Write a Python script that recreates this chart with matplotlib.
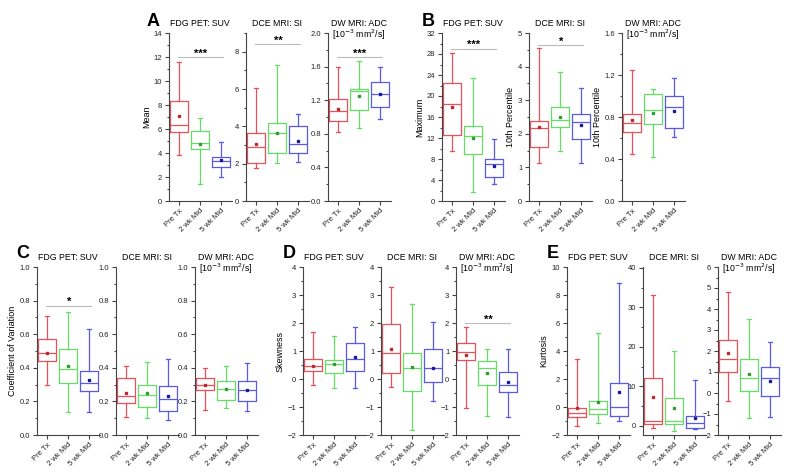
import matplotlib
matplotlib.use("Agg")
import matplotlib.pyplot as plt
from matplotlib.ticker import MultipleLocator

plt.rcParams['font.family'] = ['Liberation Sans', 'DejaVu Sans']

# -----------------------------
# DATA
# each box: (whisker low, Q1, median, Q3, whisker high, mean)
# order: Pre Tx, 2 wk Mid, 5 wk Mid
# -----------------------------
groups = ["Pre Tx", "2 wk Mid", "5 wk Mid"]

mean_suv = [(3.8, 5.75, 6.3, 8.35, 11.6, 7.1), (1.4, 4.3, 4.8, 5.85, 6.9, 4.75), (1.97, 2.83, 3.3, 3.64, 4.95, 3.4)]
mean_si = [(1.76, 2.03, 2.9, 3.64, 6.05, 3.06), (2.03, 2.56, 3.64, 4.18, 7.3, 3.62), (2.08, 2.56, 3.06, 4.03, 4.66, 3.22)]
mean_adc = [(0.82, 0.95, 1.07, 1.21, 1.6, 1.10), (0.87, 1.08, 1.31, 1.33, 1.67, 1.25), (0.98, 1.12, 1.27, 1.42, 1.6, 1.27)]

max_suv = [(9.6, 12.5, 18.4, 22.5, 28.2, 17.9), (1.8, 9.0, 12.4, 14.2, 23.5, 12.0), (3.2, 4.6, 7.1, 7.95, 11.8, 6.7)]
p10_si = [(1.12, 1.62, 2.18, 2.39, 4.54, 2.19), (1.49, 2.19, 2.41, 2.81, 3.85, 2.49), (1.12, 1.84, 2.34, 2.59, 3.35, 2.26)]
p10_adc = [(0.45, 0.66, 0.74, 0.83, 1.25, 0.77), (0.42, 0.73, 0.87, 1.02, 1.07, 0.84), (0.61, 0.70, 0.90, 1.0, 1.17, 0.86)]

cv_suv = [(0.30, 0.44, 0.49, 0.57, 0.71, 0.49), (0.135, 0.31, 0.39, 0.51, 0.735, 0.41), (0.135, 0.26, 0.31, 0.38, 0.63, 0.33)]
cv_si = [(0.105, 0.19, 0.235, 0.34, 0.41, 0.25), (0.10, 0.165, 0.24, 0.30, 0.435, 0.25), (0.09, 0.14, 0.215, 0.29, 0.45, 0.23)]
cv_adc = [(0.15, 0.27, 0.30, 0.34, 0.40, 0.30), (0.16, 0.21, 0.275, 0.32, 0.41, 0.275), (0.14, 0.205, 0.265, 0.32, 0.43, 0.27)]

skew_suv = [(-0.21, 0.29, 0.47, 0.70, 1.69, 0.48), (-0.33, 0.23, 0.53, 0.68, 1.54, 0.53), (-0.33, 0.30, 0.70, 1.28, 1.87, 0.79)]
skew_si = [(-0.27, 0.23, 0.92, 1.96, 3.27, 1.07), (-1.83, -0.42, 0.41, 0.92, 2.67, 0.44), (-0.78, -0.12, 0.38, 1.07, 2.03, 0.41)]
skew_adc = [(-1.03, 0.68, 0.98, 1.28, 1.84, 0.84), (-1.31, -0.21, 0.41, 0.66, 1.06, 0.20), (-1.35, -0.48, -0.21, 0.24, 1.06, -0.12)]

kurt_suv = [(-1.34, -0.69, -0.45, -0.1, 3.44, -0.1), (-1.12, -0.53, -0.14, 0.45, 5.27, 0.38), (-0.98, -0.62, 0.02, 1.69, 8.85, 1.05)]
kurt_si = [(-0.6, 0.42, 1.35, 12.1, 33.0, 7.2), (-1.27, 0.5, 1.35, 7.0, 19.0, 4.5), (-0.8, -0.6, 0.85, 2.6, 11.5, 2.1)]
kurt_adc = [(-0.37, 1.02, 1.61, 2.53, 4.79, 1.89), (-1.21, 0.11, 0.70, 1.61, 3.51, 0.89), (-1.16, -0.14, 0.70, 1.22, 2.45, 0.59)]

# -----------------------------
# STYLE
# -----------------------------
box_colors = ["#e8505b", "#66dd66", "#5a5ae6"]
mean_colors = ["#c0282f", "#2e9e2e", "#1a1aa0"]
spine_col = "#444444"

W, H = 800, 475
ax_w = 63
rows = {"top": (33, 201), "bottom": (267, 435)}

suv_title = "FDG PET: SUV"
si_title = "DCE MRI: SI"
adc_title = "DW MRI: ADC"
adc_unit = r"[10$^{-3}$ mm$^{2}$/s]"

# (data, row, left px, ylim, major, minor, title, ylabel, significance)
panels = [
    (mean_suv, "top", 168.5, (0, 14), 2, 1, suv_title, "Mean", ("***", 12.0)),
    (mean_si, "top", 245.5, (0, 9), 2, 1, si_title, None, ("**", 8.4)),
    (mean_adc, "top", 327.5, (0, 2.0), 0.4, 0.2, adc_title, None, ("***", 1.71)),
    (max_suv, "top", 441.5, (0, 32), 4, 2, suv_title, "Maximum", ("***", 29.0)),
    (p10_si, "top", 528.5, (0, 5), 1, 0.5, si_title, "10th Percentile", ("*", 4.64)),
    (p10_adc, "top", 621.5, (0, 1.6), 0.4, 0.2, adc_title, "10th Percentile", None),
    (cv_suv, "bottom", 36.5, (0, 1.0), 0.2, 0.1, suv_title, "Coefficient of Variation", ("*", 0.77)),
    (cv_si, "bottom", 115.5, (0, 1.0), 0.2, 0.1, si_title, None, None),
    (cv_adc, "bottom", 194.5, (0, 1.0), 0.2, 0.1, adc_title, None, None),
    (skew_suv, "bottom", 302.5, (-2, 4), 1, 0.5, suv_title, "Skewness", None),
    (skew_si, "bottom", 380.5, (-2, 4), 1, 0.5, si_title, None, None),
    (skew_adc, "bottom", 455.5, (-2, 4), 1, 0.5, adc_title, None, ("**", 2.0)),
    (kurt_suv, "bottom", 566.5, (-2, 10), 2, 1, suv_title, "Kurtosis", None),
    (kurt_si, "bottom", 642.5, (-2.3, 40.2), 10, 5, si_title, None, None),
    (kurt_adc, "bottom", 717.5, (-2, 6), 1, 0.5, adc_title, None, None),
]

letters = [("A", 147, 21), ("B", 422, 21), ("C", 16, 253), ("D", 283, 253), ("E", 547, 253)]

# -----------------------------
# PLOTS
# -----------------------------
fig = plt.figure(figsize=(W / 100, H / 100), dpi=100)

for data, row, left, ylim, major, minor, title, ylabel, sig in panels:
    top, bot = rows[row]
    ax = fig.add_axes([left / W, 1 - bot / H, ax_w / W, (bot - top) / H])

    stats = [dict(whislo=d[0], q1=d[1], med=d[2], q3=d[3], whishi=d[4], mean=d[5], fliers=[])
             for d in data]
    art = ax.bxp(stats, positions=[1, 2, 3], widths=0.85, showmeans=True, showfliers=False,
                 capwidths=0.18)
    for i in range(3):
        c = box_colors[i]
        art["boxes"][i].set(color=c, linewidth=0.9)
        art["medians"][i].set(color=c, linewidth=0.9)
        for ln in art["whiskers"][2 * i:2 * i + 2] + art["caps"][2 * i:2 * i + 2]:
            ln.set(color=c, linewidth=0.9)
        art["means"][i].set(marker="s", markersize=2.0, markerfacecolor=mean_colors[i],
                            markeredgecolor=mean_colors[i])

    ax.set_xlim(0.5, 3.5)
    ax.set_ylim(*ylim)
    ax.yaxis.set_major_locator(MultipleLocator(major))
    ax.yaxis.set_minor_locator(MultipleLocator(minor))
    if major < 1:
        ax.yaxis.set_major_formatter(plt.FormatStrFormatter("%.1f"))
    ax.set_xticks([1, 2, 3])
    ax.set_xticklabels(groups, rotation=45, ha="right", rotation_mode="anchor", fontsize=5.5)

    for s in ["top", "right"]:
        ax.spines[s].set_visible(False)
    for s in ["left", "bottom"]:
        ax.spines[s].set(color=spine_col, linewidth=0.8)
    ax.tick_params(which="both", colors=spine_col, labelcolor="#222222", width=0.8, labelsize=5.5, pad=1.5)
    ax.tick_params(which="major", length=3)
    ax.tick_params(which="minor", length=1.8)

    ax.text(0.5, 1.055, title, transform=ax.transAxes, ha="center", va="center", fontsize=6.3)
    if title == adc_title:
        ax.text(0.5, 0.99, adc_unit, transform=ax.transAxes, ha="center", va="center", fontsize=6.3)
    if ylabel:
        ax.set_ylabel(ylabel, fontsize=6.5, labelpad=2)

    if sig:
        stars, level = sig
        ax.plot([0.95, 3.1], [level, level], color="#bbbbbb", linewidth=0.8, clip_on=False)
        ax.annotate(stars, (2.05, level), xytext=(0, -1), textcoords="offset points",
                    ha="center", va="bottom", fontsize=8, fontweight="bold")

for lbl, x, y in letters:
    fig.text(x / W, 1 - y / H, lbl, ha="left", va="center", fontsize=13, fontweight="bold")

fig.savefig("out.png", dpi=100, facecolor="white")
